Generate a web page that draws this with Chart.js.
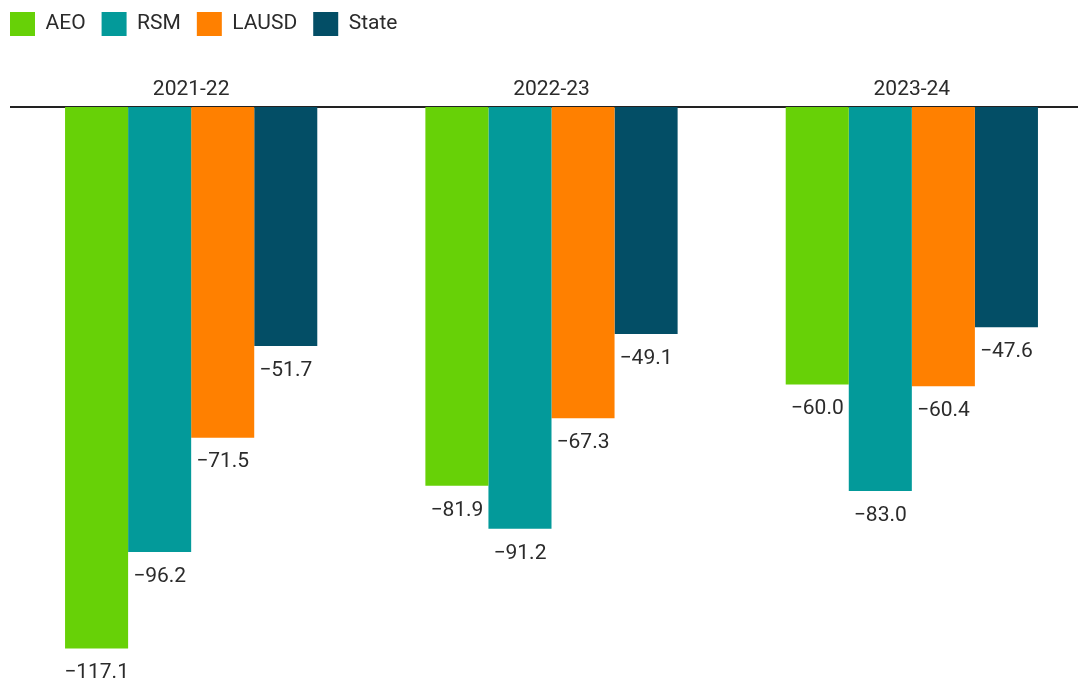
<!DOCTYPE html>
<html>
<head>
<meta charset="utf-8">
<script src="https://cdn.jsdelivr.net/npm/chart.js@4"></script>
<style>
  html, body { margin: 0; padding: 0; background: #fff; overflow: hidden; }
  /* the legend sits inside the canvas padding, so pull the whole box up-left a little */
  #wrap { position: absolute; left: -6px; top: -4px; width: 1098px; height: 685px; }
</style>
</head>
<body>
<div id="wrap"><canvas id="chart"></canvas></div>
<script>
const years = ["2021-22", "2022-23", "2023-24"];
const aeo   = [-117.1, -81.9, -60.0];
const rsm   = [-96.2, -91.2, -83.0];
const lausd = [-71.5, -67.3, -60.4];
const state = [-51.7, -49.1, -47.6];

const FONT = "Roboto, 'Noto Sans', sans-serif";
const TEXT = "#2b2b2b";

// value under each bar, with a real minus sign
const barLabels = {
  id: "barLabels",
  afterDatasetsDraw(chart) {
    const ctx = chart.ctx;
    ctx.save();
    ctx.font = `21px ${FONT}`;
    ctx.fillStyle = TEXT;
    ctx.textAlign = "center";
    ctx.textBaseline = "top";
    chart.data.datasets.forEach((ds, i) => {
      chart.getDatasetMeta(i).data.forEach((bar, j) => {
        const v = ds.data[j];
        const txt = (v < 0 ? "\u2212" : "") + Math.abs(v).toFixed(1);
        ctx.fillText(txt, bar.x, bar.y + 14);
      });
    });
    ctx.restore();
  }
};

new Chart(document.getElementById("chart"), {
  type: "bar",
  data: {
    labels: years,
    datasets: [
      { label: "AEO",   data: aeo,   backgroundColor: "#67d107" },
      { label: "RSM",   data: rsm,   backgroundColor: "#039a9a" },
      { label: "LAUSD", data: lausd, backgroundColor: "#ff8000" },
      { label: "State", data: state, backgroundColor: "#034e66" }
    ]
  },
  options: {
    responsive: true,
    maintainAspectRatio: false,
    animation: false,
    layout: { padding: { left: 0, right: 0, top: 0, bottom: 19 } },
    datasets: {
      bar: { categoryPercentage: 0.7, barPercentage: 1.0, borderWidth: 0 }
    },
    plugins: {
      legend: {
        position: "top",
        align: "start",
        labels: {
          boxWidth: 25,
          boxHeight: 24,
          padding: 16,
          color: TEXT,
          font: { family: FONT, size: 21 }
        }
      },
      tooltip: { enabled: false }
    },
    scales: {
      x: {
        position: "top",
        grid: { display: false, drawTicks: false },
        border: { display: true, color: "#222", width: 2 },
        ticks: { color: TEXT, font: { family: FONT, size: 21 }, padding: 5 },
        afterFit(scale) { scale.height = 61; }
      },
      y: {
        min: -120,
        max: 0,
        grid: { display: false },
        border: { display: false },
        ticks: { display: false },
        afterFit(scale) { scale.width = 17; }
      }
    }
  },
  plugins: [barLabels]
});
</script>
</body>
</html>
